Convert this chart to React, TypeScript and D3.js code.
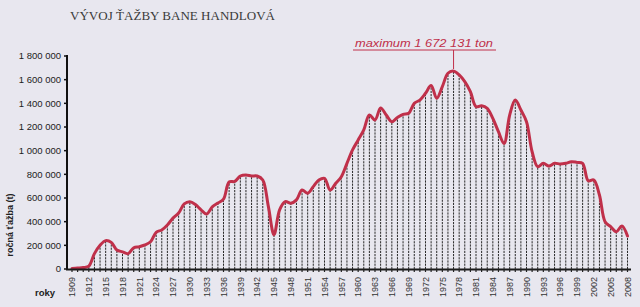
import React from "react";
import * as d3 from "d3";

const startYear = 1909;
const endYear = 2008;
// annual output in tonnes, 1909..2008
const production: number[] = [
  5000, 8000, 12000, 25000, 130000, 200000, 240000, 225000, 160000, 145000, // 1909-1918
  130000, 180000, 188000, 203000, 230000, 310000, 330000, 372000, 430000, 473000, // 1919-1928
  550000, 569000, 545000, 500000, 465000, 525000, 557000, 590000, 735000, 740000, // 1929-1938
  786000, 794000, 786000, 786000, 752000, 527000, 290000, 500000, 569000, 555000, // 1939-1948
  584000, 668000, 640000, 696000, 752000, 766000, 668000, 724000, 780000, 893000, // 1949-1958
  1006000, 1090000, 1175000, 1301000, 1259000, 1360000, 1301000, 1245000, 1280000, 1307000, // 1959-1968
  1316000, 1400000, 1428000, 1485000, 1550000, 1442000, 1541000, 1654000, 1672131, 1640000, // 1969-1978
  1583000, 1498000, 1372000, 1380000, 1358000, 1273000, 1160000, 1060000, 1301000, 1428000, // 1979-1988
  1344000, 1245000, 991000, 865000, 893000, 870000, 893000, 887000, 893000, 907000, // 1989-1998
  901000, 893000, 746000, 752000, 625000, 400000, 358000, 315000, 363000, 279000, // 1999-2008
];
const yTicks = [0, 200000, 400000, 600000, 800000, 1000000, 1200000, 1400000, 1600000, 1800000];
const xTickLabels = [
  1909, 1912, 1915, 1918, 1921, 1924, 1927, 1930, 1933, 1936, 1939, 1942, 1945, 1948, 1951,
  1954, 1957, 1960, 1963, 1966, 1969, 1972, 1975, 1978, 1981, 1984, 1987, 1990, 1993, 1996,
  1999, 2002, 2005, 2008,
];
const maxYear = 1977;
const maxLabel = "maximum  1 672 131 ton";
const title = "VÝVOJ ŤAŽBY BANE HANDLOVÁ";
const yTitle = "ročná ťažba (t)";
const xTitle = "roky";

const W = 640;
const H = 307;

export default function App() {
  const data = production.map((v, i) => ({ year: startYear + i, value: v }));
  const x = d3.scaleLinear().domain([startYear, endYear]).range([72, 627.5]);
  const y = d3.scaleLinear().domain([0, 1800000]).range([269, 56]);
  const line = d3
    .line<{ year: number; value: number }>()
    .x((d) => x(d.year))
    .y((d) => y(d.value))
    .curve(d3.curveCatmullRom.alpha(0.5));
  const fmt = (v: number) => d3.format(",")(v).replace(/,/g, " ");
  const allYears = d3.range(startYear, endYear + 1);
  const maxVal = production[maxYear - startYear];
  const red = "#c0304a";
  const sans = "'Liberation Sans', Arial, sans-serif";

  return (
    <div style={{ position: "fixed", left: 0, top: 0, width: W, height: H }}>
      <svg width={W} height={H} style={{ display: "block" }}>
        <rect x={0} y={0} width={W} height={H} fill="#e8e7ef" />
        <text
          x={70}
          y={20}
          fontFamily="'Liberation Serif', 'DejaVu Serif', serif"
          fontSize={11.5}
          fill="#3a3a3a"
          textLength={205}
          lengthAdjust="spacingAndGlyphs"
        >
          {title}
        </text>

        {/* vertical dashed bars */}
        {data.map((d) => (
          <line
            key={d.year}
            x1={x(d.year)}
            x2={x(d.year)}
            y1={y(0)}
            y2={y(d.value)}
            stroke="#2a2a2a"
            strokeWidth={1}
            strokeDasharray="2.2,1"
          />
        ))}

        {/* smoothed line */}
        <path d={line(data) || ""} fill="none" stroke={red} strokeWidth={3} strokeLinejoin="round" strokeLinecap="round" />

        {/* y axis */}
        <line x1={67} x2={67} y1={y(1800000) - 1} y2={y(0) + 1} stroke="#111" strokeWidth={2} />
        {yTicks.map((t) => (
          <g key={t}>
            <line x1={64} x2={67} y1={y(t)} y2={y(t)} stroke="#111" strokeWidth={1.5} />
            <text x={61} y={y(t) + 3.3} textAnchor="end" fontFamily={sans} fontSize={9.5} fill="#222">
              {fmt(t)}
            </text>
          </g>
        ))}
        <text
          transform={`translate(13,225) rotate(-90)`}
          textAnchor="middle"
          fontFamily={sans}
          fontSize={9}
          fontWeight="bold"
          fill="#222"
        >
          {yTitle}
        </text>

        {/* x axis */}
        <line x1={66} x2={631} y1={y(0) + 0.5} y2={y(0) + 0.5} stroke="#1a1a1a" strokeWidth={2} />
        {allYears.map((yr) => (
          <line key={yr} x1={x(yr)} x2={x(yr)} y1={y(0)} y2={y(0) + 3} stroke="#222" strokeWidth={1.2} />
        ))}
        {xTickLabels.map((yr) => (
          <text
            key={yr}
            transform={`translate(${x(yr) + 3.2},${277}) rotate(-90)`}
            textAnchor="end"
            fontFamily={sans}
            fontSize={9}
            fill="#333"
          >
            {yr}
          </text>
        ))}
        <text x={35} y={296} fontFamily={sans} fontSize={9.5} fontWeight="bold" fill="#222">
          {xTitle}
        </text>

        {/* maximum annotation */}
        <line x1={x(maxYear)} x2={x(maxYear)} y1={50} y2={y(maxVal) - 2} stroke={red} strokeWidth={1} />
        <line x1={353} x2={496} y1={50} y2={50} stroke={red} strokeWidth={1} />
        <text
          x={355}
          y={47}
          fontFamily={sans}
          fontSize={11.5}
          fontStyle="italic"
          fill={red}
          textLength={138}
          lengthAdjust="spacingAndGlyphs"
        >
          {maxLabel}
        </text>
      </svg>
    </div>
  );
}
